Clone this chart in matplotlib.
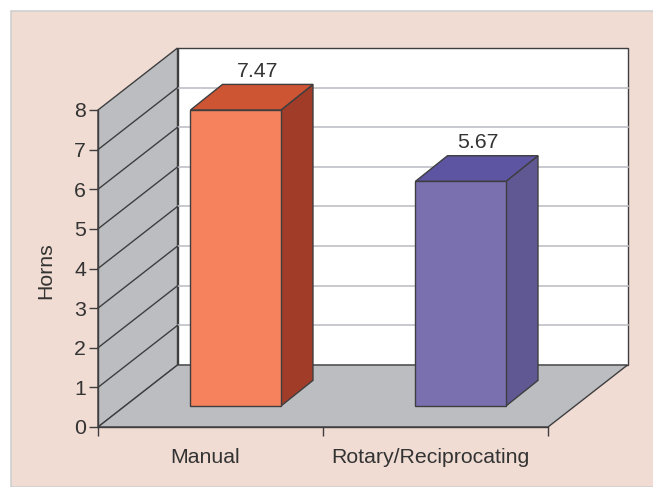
import matplotlib
matplotlib.use('Agg')
from matplotlib import pyplot as plt
from matplotlib.patches import Polygon, Rectangle

categories = ['Manual', 'Rotary/Reciprocating']
values = [7.47, 5.67]
y_ticks = [0, 1, 2, 3, 4, 5, 6, 7, 8]

front_colors = ['#f5825c', '#7a70b0']
side_colors = ['#a03c28', '#5f5893']
top_colors = ['#cd5534', '#5d55a2']

plt.rcParams['font.family'] = ['Liberation Sans', 'DejaVu Sans']

W, H = 653, 487
LINE = '#3e3e40'
GRAY = '#bcbdc0'
GRID = '#bfc0c6'
TEXT = '#333333'
FS = 15.3

fig = plt.figure(figsize=(W / 100, H / 100), dpi=100, facecolor='white')

# panel behind everything, figure coords
fig.patches.append(Rectangle((11 / W, 0), 1, 1 - 11 / H, transform=fig.transFigure,
                             facecolor='#f0dcd3', edgecolor='#cfcfcf', linewidth=1.2, zorder=-1))

# axes = front plane of the 3D box
ax = fig.add_axes([98 / W, (H - 427) / H, 450 / W, 317 / H])
ax.set_xlim(0, 2)
ax.set_ylim(0, 8)
ax.patch.set_visible(False)

ux = 450 / 2   # px per category
uy = 317 / 8   # px per value unit
box_dx = 79.5 / ux
box_dy = 62 / uy


def poly(points, color, z, edge=LINE, lw=1.0):
    ax.add_patch(Polygon(points, closed=True, facecolor=color, edgecolor=edge,
                         linewidth=lw, clip_on=False, zorder=z, joinstyle='miter'))


# back wall, side wall, floor
poly([(box_dx, box_dy), (2 + box_dx, box_dy), (2 + box_dx, 8 + box_dy), (box_dx, 8 + box_dy)], 'white', 1)
poly([(0, 0), (box_dx, box_dy), (box_dx, 8 + box_dy), (0, 8)], GRAY, 1.5)
for t in y_ticks[1:-1]:
    ax.plot([box_dx, 2 + box_dx], [t + box_dy, t + box_dy], color=GRID, lw=1.2, clip_on=False, zorder=2)
    ax.plot([0, box_dx], [t, t + box_dy], color=LINE, lw=1.0, clip_on=False, zorder=2)
poly([(0, 0), (2, 0), (2 + box_dx, box_dy), (box_dx, box_dy)], GRAY, 3)

# bars
bar_left = 0.411
bar_width = 90.5 / ux
bar_base = 21 / uy
bar_dx = 32 / ux
bar_dy = 25.6 / uy
label_shift = [21.5 / ux, 17 / ux]

for i, v in enumerate(values):
    x0 = i + bar_left
    x1 = x0 + bar_width
    y0 = bar_base
    y1 = bar_base + v
    poly([(x1, y0), (x1 + bar_dx, y0 + bar_dy), (x1 + bar_dx, y1 + bar_dy), (x1, y1)], side_colors[i], 4)
    poly([(x0, y1), (x1, y1), (x1 + bar_dx, y1 + bar_dy), (x0 + bar_dx, y1 + bar_dy)], top_colors[i], 4)
    poly([(x0, y0), (x1, y0), (x1, y1), (x0, y1)], front_colors[i], 5)
    ax.annotate('%.2f' % v, xy=((x0 + x1) / 2 + label_shift[i], y1 + bar_dy), xytext=(0, 2.5),
                textcoords='offset points', ha='center', va='bottom', fontsize=FS,
                color=TEXT, annotation_clip=False)

# axes
for s in ['top', 'right']:
    ax.spines[s].set_visible(False)
for s in ['left', 'bottom']:
    ax.spines[s].set_color(LINE)
    ax.spines[s].set_linewidth(1.0)
    ax.spines[s].set_zorder(6)

ax.set_yticks(y_ticks)
ax.tick_params(axis='y', length=6.2, width=1.0, color=LINE, labelsize=FS, labelcolor=TEXT, pad=2.5)
ax.set_xticks([0, 1, 2])
ax.set_xticklabels([])
ax.tick_params(axis='x', which='major', length=6.2, width=1.0, color=LINE)
ax.set_xticks([i + 0.5 - 5.5 / ux for i in range(len(categories))], minor=True)
ax.set_xticklabels(categories, minor=True)
ax.tick_params(axis='x', which='minor', length=0, labelsize=FS, labelcolor=TEXT, pad=15)

ax.set_ylabel('Horns', fontsize=FS, color=TEXT)
ax.yaxis.set_label_coords((55 - 98) / 450, (427 - 271) / 317)

fig.savefig('out.png', dpi=100, facecolor=fig.get_facecolor())
